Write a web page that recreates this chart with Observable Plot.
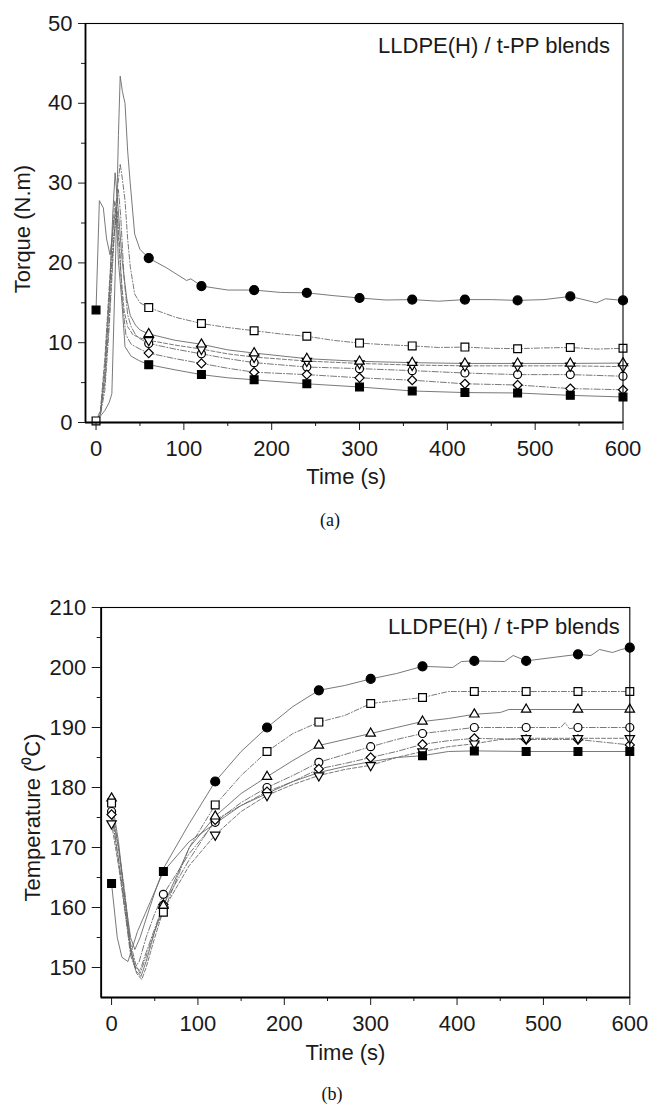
<!DOCTYPE html>
<html>
<head>
<meta charset="utf-8">
<script src="https://cdn.jsdelivr.net/npm/d3@7"></script>
<script src="https://cdn.jsdelivr.net/npm/@observablehq/plot@0.6"></script>
<style>
  html, body { margin: 0; padding: 0; background: #fff; }
  #wrap { position: relative; width: 648px; height: 1110px; overflow: hidden; }
  #chartA { position: absolute; left: 0; top: 0; }
  #chartB { position: absolute; left: 0; top: 580px; }
  .cap { position: absolute; width: 80px; text-align: center; font-family: "Liberation Serif", "Times New Roman", serif; font-size: 18px; line-height: 20px; color: #111; }
</style>
</head>
<body>
<div id="wrap">
  <div id="chartA"></div>
  <div class="cap" style="left:290px; top:510px;">(a)</div>
  <div id="chartB"></div>
  <div class="cap" style="left:292px; top:1084px;">(b)</div>
</div>
<script>
// ---------------- DATA ----------------
const panelNote = "LLDPE(H) / t-PP blends";
const xLabel = "Time (s)";
const torqueLabel = "Torque (N.m)";
const tempLabel = "Temperature (\u2070C)";

const xDomain = [-12, 600];
const xTicks = [0, 100, 200, 300, 400, 500, 600];
const xMinorTicks = [50, 150, 250, 350, 450, 550];

const torqueDomain = [0, 50];
const torqueTicks = [0, 10, 20, 30, 40, 50];
const torqueMinorTicks = [5, 15, 25, 35, 45];

const tempDomain = [145, 210];
const tempTicks = [150, 160, 170, 180, 190, 200, 210];
const tempMinorTicks = [155, 165, 175, 185, 195, 205];

const seriesKeys = ["filledCircle", "openSquare", "openTriangle", "openCircle", "openDownTriangle", "openDiamond", "filledSquare"];
const markerTimes = [0, 60, 120, 180, 240, 300, 360, 420, 480, 540, 600];

// Torque markers (null = marker hidden under another one)
const torqueFilledCircle     = [null, 20.6, 17.1, 16.6, 16.25, 15.6, 15.4, 15.4, 15.3, 15.8, 15.3];
const torqueOpenSquare       = [0.2, 14.4, 12.4, 11.5, 10.8, 9.95, 9.6, 9.45, 9.25, 9.4, 9.3];
const torqueOpenTriangle     = [null, 11.1, 9.8, 8.7, 8.0, 7.66, 7.5, 7.4, 7.4, 7.4, 7.45];
const torqueOpenCircle       = [null, 9.9, 8.6, 7.5, 6.95, 6.75, 6.5, 6.2, 6.0, 6.0, 5.8];
const torqueOpenDownTriangle = [null, 10.3, 9.2, 8.2, 7.7, 7.4, 7.2, 7.1, 7.1, 7.1, 7.0];
const torqueOpenDiamond      = [null, 8.7, 7.4, 6.3, 6.0, 5.6, 5.3, 4.85, 4.7, 4.25, 4.1];
const torqueFilledSquare     = [14.1, 7.25, 6.0, 5.35, 4.85, 4.45, 3.95, 3.75, 3.7, 3.4, 3.2];

// Torque loading curves (t < 60 s)
const torqueRiseFilledCircle = [[0,0.2],[5,0.8],[10,1.5],[15,2.5],[18,3.6],[22,19.5],[25.5,36],[27.5,43.4],[30,41.5],[33,40],[36,34],[39,29.9],[44,23.6],[50,21.7]];
const torqueRiseOpenSquare = [[0,0.2],[5,1],[10,4],[15,12],[20,22],[24,29],[27.5,32.4],[30,30.5],[33,27.8],[36,23],[39,19.5],[44,16.1],[50,15]];
const torqueRiseOpenTriangle = [[0,0.2],[5,1],[10,6],[15,15],[19,26],[21.7,31.3],[25,27],[30,20],[35,15.5],[39,13.4],[45,12.2],[50,11.6]];
const torqueRiseOpenCircle = [[0,0.2],[5,1.2],[10,5],[15,13],[20,23],[25.4,29.2],[28,26],[32,18],[36,13.5],[40,12],[45,11],[50,10.5]];
const torqueRiseOpenDownTriangle = [[0,0.2],[5,1.5],[10,8],[15,17],[21.3,27.8],[24,26],[28,19],[32,14],[36,12],[42,11],[50,10.6]];
const torqueRiseOpenDiamond = [[0,0.2],[5,1.2],[10,7],[15,16],[20,23],[24,26.5],[27,22],[30,15],[34,11],[40,9.8],[50,9.2]];
const torqueRiseFilledSquare = [[0,14.1],[3.8,27.8],[8.3,26.9],[12,23],[16,21],[20,25],[23,27],[25.4,20.3],[29.3,15.3],[33,9.5],[40,8.3],[50,7.7]];

// Torque extra line points between markers (t >= 60 s)
const torqueLineFilledCircle = [[80,19.4],[103,17.8],[108,18.0],[150,16.6],[210,16.3],[270,15.9],[330,15.35],[390,15.2],[450,15.4],[510,15.4],[570,15.0],[580,15.5]];
const torqueLineOpenSquare = [[90,13.2],[150,11.9],[210,11.1],[270,10.3],[330,9.75],[390,9.4],[450,9.3],[510,9.35],[570,9.2]];
const torqueLineOpenTriangle = [[90,10.3],[150,9.1]];
const torqueLineOpenCircle = [[90,9.2],[150,8.0]];
const torqueLineOpenDownTriangle = [[90,9.7],[150,8.6]];
const torqueLineOpenDiamond = [[90,8.0],[150,6.8]];
const torqueLineFilledSquare = [[90,6.6],[150,5.6]];

// Temperature markers (null = marker hidden under another one)
const tempFilledCircle     = [null, null, 181, 190, 196.2, 198.1, 200.2, 201.1, 201.1, 202.2, 203.3];
const tempOpenSquare       = [177.4, 159.2, 177.1, 186, 190.9, 194, 195, 196, 196, 196, 196];
const tempOpenTriangle     = [178.2, 160.3, 175.2, 181.8, 187, 189, 191, 192.2, 193, 193, 193];
const tempOpenCircle       = [176, 162.2, 174.2, 180, 184.2, 186.8, 189, 190, 190, 190, 190];
const tempOpenDownTriangle = [174, 159.6, 172.1, 178.7, 182, 183.7, 186, 187.3, 188.2, 188.2, 188.2];
const tempOpenDiamond      = [175.5, 160.5, 174.6, 179.3, 183.1, 185, 187.2, 188.2, 188, 188, 187.1];
const tempFilledSquare     = [164, 166, null, null, null, null, 185.3, 186.1, 186, 186, 186];

// Temperature drop curves (t < 60 s)
const tempDropFilledCircle = [[0,176],[8,170],[15,162],[22,155],[27,153],[33,155],[42,159],[50,162.5]];
const tempDropOpenSquare = [[0,177.4],[8,170],[15,163],[22,154],[28,150.5],[33,149],[38,151],[45,154],[52,157]];
const tempDropOpenTriangle = [[0,178.2],[8,171],[15,162],[22,153],[28,149.5],[34,148.5],[40,151],[50,156]];
const tempDropOpenCircle = [[0,176],[8,168],[15,160],[22,152],[27,150],[32,151],[40,155],[50,159]];
const tempDropOpenDownTriangle = [[0,174],[8,167],[15,160],[22,153],[29,149],[35,148],[40,150],[50,155]];
const tempDropOpenDiamond = [[0,175.5],[8,168],[15,161],[22,153],[28,150],[33,149.5],[40,152.5],[50,156.5]];
const tempDropFilledSquare = [[0,164],[6.6,155],[12,151.7],[19,151],[30,156],[45,161]];

// Temperature extra line points between markers (t >= 60 s)
const tempLineFilledCircle = [[60,166.5],[90,174],[150,186],[210,193.5],[270,197],[330,199],[395,200],[405,201],[455,201],[465,202],[555,202],[565,203],[580,202.5],[590,203]];
const tempLineOpenSquare = [[90,170],[150,182],[210,189],[270,192],[330,194.5],[390,196]];
const tempLineOpenTriangle = [[90,170],[150,179],[210,184.5],[270,188],[330,190],[390,191.5],[450,192.5],[460,193]];
const tempLineOpenCircle = [[90,169],[150,177.5],[210,182],[270,185.5],[330,188],[390,189.5],[520,190],[525,190.8],[530,189.8]];
const tempLineOpenDownTriangle = [[90,167],[150,176],[210,180.5],[270,183],[330,185],[390,186.8],[450,188]];
const tempLineOpenDiamond = [[90,168],[150,177],[210,181],[270,184],[330,186],[390,187.8]];
const tempLineFilledSquare = [[90,171],[120,174],[150,177],[180,179],[210,181],[240,182.5],[270,183.5],[300,184.3],[330,185],[390,186]];

// ---------------- STYLES ----------------
const triangleDown = {
  draw(context, size) {
    const y = -Math.sqrt(size / (Math.sqrt(3) * 3));
    context.moveTo(0, -y * 2);
    context.lineTo(-Math.sqrt(3) * y, y);
    context.lineTo(Math.sqrt(3) * y, y);
    context.closePath();
  }
};
const seriesStyle = {
  filledCircle:     {symbol: "circle",   r: 4.5, fill: "black", dash: null},
  openSquare:       {symbol: "square",   r: 4.4, fill: "white", dash: "5,2,1,2"},
  openTriangle:     {symbol: "triangle", r: 3.5, fill: "white", dash: null},
  openCircle:       {symbol: "circle",   r: 4.0, fill: "white", dash: "6,2,1,2"},
  openDownTriangle: {symbol: triangleDown, r: 3.5, fill: "white", dash: "4,2"},
  openDiamond:      {symbol: "diamond2", r: 4.1, fill: "white", dash: "6,2,1,2"},
  filledSquare:     {symbol: "square",   r: 4.4, fill: "black", dash: null}
};
const drawOrder = ["openCircle", "openDiamond", "openDownTriangle", "openTriangle", "filledSquare", "openSquare", "filledCircle"];

const torqueMarkers = {filledCircle: torqueFilledCircle, openSquare: torqueOpenSquare, openTriangle: torqueOpenTriangle, openCircle: torqueOpenCircle, openDownTriangle: torqueOpenDownTriangle, openDiamond: torqueOpenDiamond, filledSquare: torqueFilledSquare};
const torqueRise = {filledCircle: torqueRiseFilledCircle, openSquare: torqueRiseOpenSquare, openTriangle: torqueRiseOpenTriangle, openCircle: torqueRiseOpenCircle, openDownTriangle: torqueRiseOpenDownTriangle, openDiamond: torqueRiseOpenDiamond, filledSquare: torqueRiseFilledSquare};
const torqueExtra = {filledCircle: torqueLineFilledCircle, openSquare: torqueLineOpenSquare, openTriangle: torqueLineOpenTriangle, openCircle: torqueLineOpenCircle, openDownTriangle: torqueLineOpenDownTriangle, openDiamond: torqueLineOpenDiamond, filledSquare: torqueLineFilledSquare};

const tempMarkers = {filledCircle: tempFilledCircle, openSquare: tempOpenSquare, openTriangle: tempOpenTriangle, openCircle: tempOpenCircle, openDownTriangle: tempOpenDownTriangle, openDiamond: tempOpenDiamond, filledSquare: tempFilledSquare};
const tempRise = {filledCircle: tempDropFilledCircle, openSquare: tempDropOpenSquare, openTriangle: tempDropOpenTriangle, openCircle: tempDropOpenCircle, openDownTriangle: tempDropOpenDownTriangle, openDiamond: tempDropOpenDiamond, filledSquare: tempDropFilledSquare};
const tempExtra = {filledCircle: tempLineFilledCircle, openSquare: tempLineOpenSquare, openTriangle: tempLineOpenTriangle, openCircle: tempLineOpenCircle, openDownTriangle: tempLineOpenDownTriangle, openDiamond: tempLineOpenDiamond, filledSquare: tempLineFilledSquare};

function buildMarks(markers, rise, extra) {
  const lineMarks = [], dotMarks = [];
  for (const key of seriesKeys) {
    const st = seriesStyle[key];
    const pts = rise[key].map(([t, v]) => ({t, v}));
    markerTimes.forEach((t, i) => { if (t >= 60 && markers[key][i] != null) pts.push({t, v: markers[key][i]}); });
    extra[key].forEach(([t, v]) => pts.push({t, v}));
    pts.sort((a, b) => a.t - b.t);
    lineMarks.push(Plot.line(pts, {x: "t", y: "v", stroke: "#6a6a6a", strokeWidth: 0.9, strokeDasharray: st.dash}));
  }
  for (const key of drawOrder) {
    const st = seriesStyle[key];
    const dots = markerTimes.map((t, i) => ({t, v: markers[key][i]})).filter(d => d.v != null);
    dotMarks.push(Plot.dot(dots, {x: "t", y: "v", symbol: st.symbol, r: st.r, fill: st.fill, stroke: "black", strokeWidth: 1.2}));
  }
  return [...lineMarks, ...dotMarks];
}

const fontFamily = "'Liberation Sans', Arial, Helvetica, sans-serif";

function axisMarks(yTicks, yMinor, yDomain, yTickSize) {
  return [
    Plot.axisX(xTicks, {tickSize: 8, tickPadding: 10, label: null, fontSize: 22}),
    Plot.axisX(xMinorTicks, {tickSize: 4, tickFormat: () => "", label: null}),
    Plot.axisY(yTicks, {tickSize: yTickSize, tickPadding: 6, label: null, fontSize: 22}),
    Plot.axisY(yMinor, {tickSize: 4, tickFormat: () => "", label: null}),
    Plot.frame({stroke: "black", strokeWidth: 1.1}),
    Plot.ruleX([xDomain[0]], {stroke: "black", strokeWidth: 1.8}),
    Plot.ruleY([yDomain[0]], {stroke: "black", strokeWidth: 1.8})
  ];
}

function labelMarks(noteDx, noteDy, xDx, xDy, yText, yDx, yDy) {
  return [
    Plot.text([panelNote], {frameAnchor: "top-right", text: d => d, textAnchor: "end", lineAnchor: "top", dx: noteDx, dy: noteDy, fontSize: 22}),
    Plot.text([xLabel], {frameAnchor: "bottom", text: d => d, textAnchor: "middle", lineAnchor: "middle", dx: xDx, dy: xDy, fontSize: 22}),
    Plot.text([yText], {frameAnchor: "left", text: d => d, textAnchor: "middle", lineAnchor: "middle", rotate: -90, dx: yDx, dy: yDy, fontSize: 22})
  ];
}

// ---------------- CHART A: torque ----------------
const chartA = Plot.plot({
  width: 648, height: 500,
  marginLeft: 85, marginRight: 25.5, marginTop: 23, marginBottom: 78,
  style: {fontFamily, fontSize: "22px", color: "#1a1a1a", background: "white", overflow: "visible"},
  x: {domain: xDomain, axis: null},
  y: {domain: torqueDomain, axis: null},
  marks: [
    ...buildMarks(torqueMarkers, torqueRise, torqueExtra),
    ...axisMarks(torqueTicks, torqueMinorTicks, torqueDomain, 7),
    ...labelMarks(-13, 14, -8, 54, torqueLabel, -63, 6)
  ]
});
document.getElementById("chartA").appendChild(chartA);

// ---------------- CHART B: temperature ----------------
const chartB = Plot.plot({
  width: 648, height: 480,
  marginLeft: 100.7, marginRight: 18.7, marginTop: 27, marginBottom: 63,
  style: {fontFamily, fontSize: "22px", color: "#1a1a1a", background: "white", overflow: "visible"},
  x: {domain: xDomain, axis: null},
  y: {domain: tempDomain, axis: null},
  marks: [
    ...buildMarks(tempMarkers, tempRise, tempExtra),
    ...axisMarks(tempTicks, tempMinorTicks, tempDomain, 9),
    ...labelMarks(-10, 11, -20, 55, tempLabel, -68, 15)
  ]
});
document.getElementById("chartB").appendChild(chartB);
</script>
</body>
</html>
